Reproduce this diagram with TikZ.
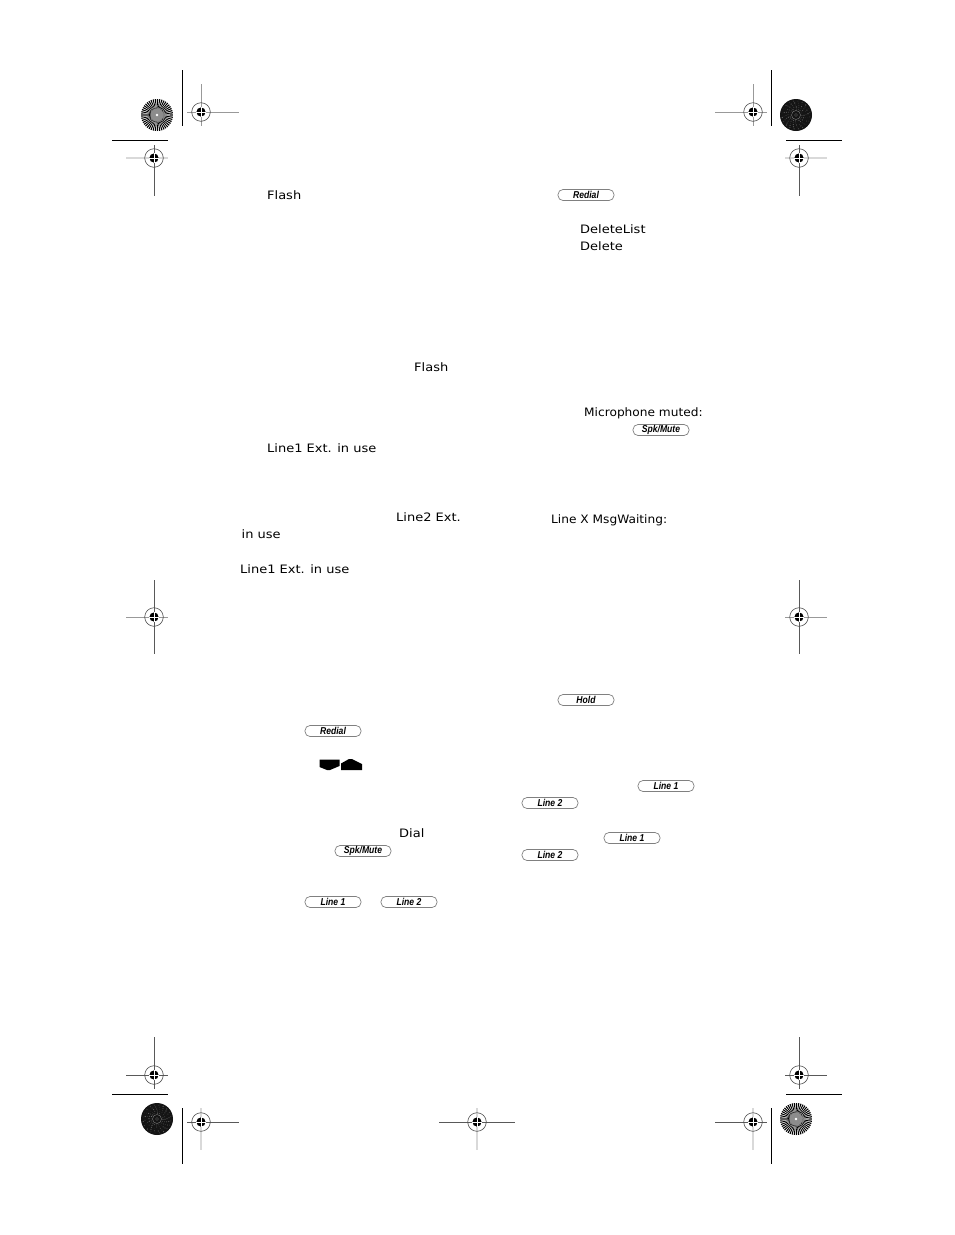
\documentclass[tikz,border=0pt]{standalone}
\usepackage{fontspec}
\newfontfamily\lcdfont[FakeStretch=1.12]{DejaVu Sans}
\newfontfamily\lcdtight[FakeStretch=1.05]{DejaVu Sans}
\newfontfamily\keyfont[FakeStretch=0.86]{Liberation Sans}
\tikzset{
    lcd/.style={anchor=base west, inner sep=0pt, font=\lcdfont\fontsize{11.6}{12}\selectfont},
    lcdnarrow/.style={lcd, font=\lcdtight\fontsize{11.6}{12}\selectfont},
    keycap/.style={draw=black!50, line width=0.7pt, rounded corners=5pt, minimum width=56pt, minimum height=11pt,
        inner sep=0pt, font=\keyfont\fontsize{10}{10}\selectfont\bfseries\itshape},
    cropline/.style={line width=1pt, black},
    hairline/.style={line width=0.7pt, black!65},
    softhair/.style={line width=0.7pt, black!40},
    palehair/.style={line width=1.2pt, black!15},
}
% registration target: centre, ends of the hairs, then the styles of the two hairs
\newcommand{\regmark}[8]{
    \draw[#7] (#3,#2) -- (#4,#2);
    \draw[#8] (#1,#5) -- (#1,#6);
    \draw[black!70, line width=0.6pt] (#1,#2) circle (9.3);
    \fill[black] (#1,#2) circle (4.6);
    \draw[white, line width=0.7pt] (#1-5,#2) -- (#1+5,#2) (#1,#2-5) -- (#1,#2+5);
}
% colour bar disc, light one with even rays
\newcommand{\lightdisc}[2]{
    \fill[white] (#1,#2) circle (16);
    \foreach \a in {0,8,...,352}
        \fill[black] (#1,#2) -- ({#1+16*cos(\a-2.2)},{#2+16*sin(\a-2.2)}) -- ({#1+16*cos(\a+2.2)},{#2+16*sin(\a+2.2)}) -- cycle;
    \fill[black!45] (#1,#2) circle (6.5);
    \fill[white] (#1,#2) circle (1.3);
}
% colour bar disc, dark one with a grey speckle
\newcommand{\darkdisc}[2]{
    \fill[black!92] (#1,#2) circle (16);
    \foreach \r in {6,8,...,14}
        \foreach \a in {0,18,...,342}
            \fill[black!55, opacity=rnd] ({#1+\r*cos(\a+\r*7)},{#2+\r*sin(\a+\r*7)}) circle (0.6);
    \draw[black!50, line width=0.4pt] (#1,#2) circle (4.5);
    \draw[black!50, line width=0.3pt] (#1,#2) circle (1.5);
}
\begin{document}
\begin{tikzpicture}[x=1pt, y=-1pt]
    \useasboundingbox (0,0) rectangle (954,1235);
    \fill[white] (0,0) rectangle (954,1235);
    \pgfmathsetseed{42}

    % Crop lines
    \draw[cropline] (182,70) -- (182,126);
    \draw[cropline] (771,70) -- (771,126);
    \draw[cropline] (112,140) -- (168,140);
    \draw[cropline] (786,140) -- (842,140);
    \draw[cropline] (112,1094) -- (168,1094);
    \draw[cropline] (786,1094) -- (842,1094);
    \draw[cropline] (182,1108) -- (182,1164);
    \draw[cropline] (771,1108) -- (771,1164);

    % Discs
    \lightdisc{157}{115}
    \darkdisc{796}{115}
    \darkdisc{157}{1119}
    \lightdisc{796}{1119}

    % Registration targets
    \regmark{201}{112}{187}{239}{84}{126}{softhair}{softhair}
    \regmark{753}{112}{715}{767}{84}{126}{softhair}{softhair}
    \regmark{154}{158}{126}{168}{145}{196}{palehair}{hairline}
    \regmark{799}{158}{785}{827}{145}{196}{palehair}{hairline}
    \regmark{154}{617}{126}{168}{580}{654}{softhair}{hairline}
    \regmark{799}{617}{785}{827}{580}{654}{softhair}{hairline}
    \regmark{154}{1075}{126}{168}{1037}{1089}{hairline}{hairline}
    \regmark{799}{1075}{785}{827}{1037}{1089}{hairline}{hairline}
    \regmark{201}{1122}{187}{239}{1108}{1150}{hairline}{palehair}
    \regmark{477}{1122}{439}{515}{1108}{1150}{hairline}{palehair}
    \regmark{753}{1122}{715}{767}{1108}{1150}{hairline}{palehair}

    % Display texts, left column
    \node[lcd] (flashA) at (267,199.5) {Flash};
    \node[lcd] (flashB) at (414,371.5) {Flash};
    \node[lcd] (extA) at (267,452.5) {Line1 Ext. in use};
    \node[lcd] (extB) at (396,521.5) {Line2 Ext.};
    \node[lcd] (extC) at (241.5,538.5) {in use};
    \node[lcd] (extD) at (240,573.5) {Line1 Ext. in use};
    \node[lcd] (dial) at (399,837.5) {Dial};

    % Display texts, right column
    \node[lcd] (dellist) at (580,233.5) {DeleteList};
    \node[lcd] (del) at (580,250.5) {Delete};
    \node[lcdnarrow] (micmute) at (584,416.5) {Microphone muted:};
    \node[lcdnarrow] (msgwait) at (551,523.5) {Line X MsgWaiting:};

    % Keys, left column
    \node[keycap] (redialA) at (333,731) {Redial};
    \node[keycap] (spkA) at (363,851) {Spk/Mute};
    \node[keycap] (lineA) at (333,902) {Line 1};
    \node[keycap] (lineB) at (409,902) {Line 2};

    % Keys, right column
    \node[keycap] (redialB) at (586,195) {Redial};
    \node[keycap] (spkB) at (661,430) {Spk/Mute};
    \node[keycap] (hold) at (586,700) {Hold};
    \node[keycap] (lineC) at (666,786) {Line 1};
    \node[keycap] (lineD) at (550,803) {Line 2};
    \node[keycap] (lineE) at (632,838) {Line 1};
    \node[keycap] (lineF) at (550,855) {Line 2};

    % Scroll keys
    \fill[black] (319.5,759.5) -- (339.5,759.5) -- (339.5,766) -- (330,770) -- (327,770) -- (319.5,767) -- cycle;
    \fill[black] (341,770) -- (362,770) -- (362,764) -- (352,759) -- (349,759) -- (341,763.5) -- cycle;
\end{tikzpicture}
\end{document}
